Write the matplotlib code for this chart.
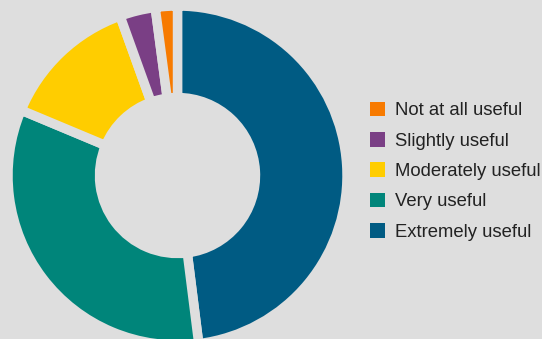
import matplotlib
matplotlib.use("Agg")
import matplotlib.pyplot as plt
from matplotlib.patches import Patch

# Survey responses (percent), in clockwise order from 12 o'clock
categories = ["Extremely useful", "Very useful", "Moderately useful",
              "Slightly useful", "Not at all useful"]
shares = [48.0, 33.3, 13.2, 3.4, 2.1]
colors = ["#005b83", "#00857a", "#ffcd00", "#7a3f85", "#f77a00"]

bg = "#dedede"
W, H, DPI = 542, 339, 100

plt.rcParams["font.family"] = ["Liberation Sans", "DejaVu Sans"]

fig = plt.figure(figsize=(W / DPI, H / DPI), dpi=DPI, facecolor=bg)

# Donut axes, sized in pixels
R = 169.5
cx, cy = 177.5, 339 - 175.5
ax = fig.add_axes([(cx - R) / W, (cy - R) / H, 2 * R / W, 2 * R / H])
ax.set_facecolor(bg)

wedges, _ = ax.pie(
    shares,
    colors=colors,
    startangle=90,
    counterclock=False,
    radius=1.0,
    wedgeprops=dict(width=0.54, edgecolor=bg, linewidth=6.8),
)
for w in wedges:
    w.set_clip_on(False)
ax.set_xlim(-1, 1)
ax.set_ylim(-1, 1)
ax.set_aspect("equal")
ax.axis("off")

handles = [Patch(facecolor=c, edgecolor="none") for c in colors][::-1]
labels = categories[::-1]
leg = fig.legend(
    handles, labels,
    loc="upper left",
    bbox_to_anchor=(366 / W, 1 - 98 / H),
    frameon=False,
    fontsize=13.3,
    handlelength=0.85,
    handleheight=0.85,
    handletextpad=0.54,
    labelspacing=0.68,
    borderaxespad=0,
    borderpad=0.2,
)
for t in leg.get_texts():
    t.set_color("#222222")

fig.savefig("out.png", dpi=DPI, facecolor=bg)
